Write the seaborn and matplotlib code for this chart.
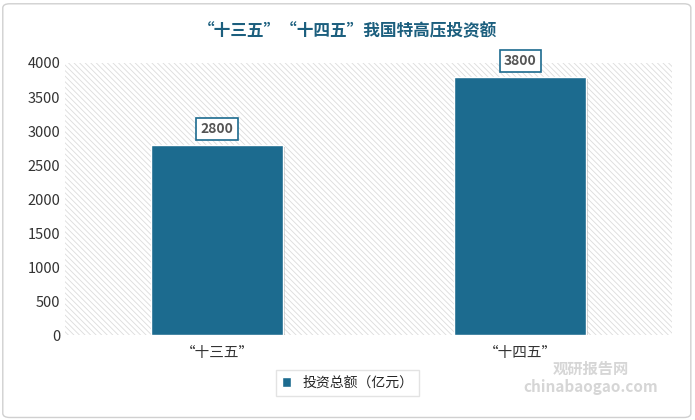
import matplotlib
matplotlib.use("Agg")
import matplotlib.pyplot as plt
import seaborn as sns
import pandas as pd
from matplotlib.patches import Rectangle, FancyBboxPatch
import matplotlib.patheffects as pe

categories = ["“十三五”", "“十四五”"]
values = [2800, 3800]
series_name = "投资总额（亿元）"
title = "“十三五”“十四五”我国特高压投资额"

sns.set_theme(style="white")
plt.rcParams['font.family'] = ['Noto Sans CJK SC', 'DejaVu Sans']
plt.rcParams['hatch.linewidth'] = 0.6

df = pd.DataFrame({"cat": categories, "val": values})
fig = plt.figure(figsize=(6.95, 4.2), dpi=100)
ax = fig.add_axes([0.094, 0.202, 0.873, 0.648])
fig.patches.append(FancyBboxPatch((0.004, 0.006), 0.99, 0.985, boxstyle="round,pad=0,rounding_size=0.01",
                                  transform=fig.transFigure, fill=False, edgecolor="#d0d0d0", lw=1))

color = "#1c6b8f"
ax.add_patch(Rectangle((0, 0), 1, 1, transform=ax.transAxes, facecolor="white",
                       hatch="\\\\\\\\\\\\", edgecolor="#dcdcdc", lw=0, zorder=0))
sns.barplot(data=df, x="cat", y="val", color=color, width=0.435, ax=ax, saturation=1, zorder=3)
for p in ax.patches[1:]:
    p.set_path_effects([pe.SimplePatchShadow(offset=(1.5, -1.5), shadow_rgbFace="#888888", alpha=0.4), pe.Normal()])
    p.set_edgecolor("white"); p.set_linewidth(1)

for i, v in enumerate(values):
    ax.text(i, v + 230, f"{v}", ha="center", va="center", fontsize=10, fontweight="bold", color="#555555",
            bbox=dict(boxstyle="square,pad=0.3", fc="white", ec=color, lw=1.2), zorder=5)

ax.set_xlim(-0.5, 1.5)
ax.set_ylim(0, 4000)
ax.set_yticks(range(0, 4001, 500))
ax.set_xlabel(""); ax.set_ylabel("")
for s in ax.spines.values():
    s.set_visible(False)
ax.tick_params(axis="both", labelsize=10.5, colors="#333333", length=0)
ax.tick_params(axis="x", pad=8)
ax.set_xticks([0, 1]); ax.set_xticklabels(categories)
if ax.get_legend():
    ax.get_legend().remove()

fig.text(0.5, 0.925, title, ha="center", va="center", fontsize=12, fontweight="bold", color="#1c5f7e")
fig.legend(handles=[Rectangle((0, 0), 1, 1, fc=color)], labels=[series_name],
           loc="center", bbox_to_anchor=(0.5, 0.088), frameon=True, fontsize=10,
           handlelength=0.7, handleheight=0.7, fancybox=False, edgecolor="#dddddd")
fig.text(0.85, 0.1, "观研报告网\nchinabaogao.com", ha="center", va="center", fontsize=11,
         color="#cccccc", fontweight="bold", alpha=0.8)
fig.savefig("out.png", dpi=100)
